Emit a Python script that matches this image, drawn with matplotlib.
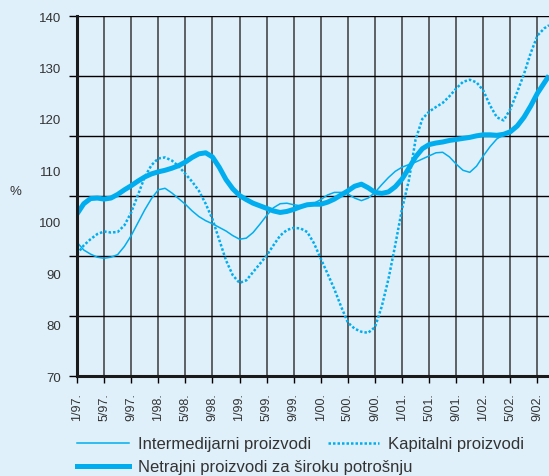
import matplotlib.pyplot as plt
from matplotlib.lines import Line2D
import numpy as np

# months counted from 1/97 (0 = January 1997), last reading at the right edge
months = list(range(70)) + [69.7]

intermedijarni = [96.0, 94.5, 93.7, 93.1, 92.9, 93.1, 93.6, 95.2, 97.3, 99.8,
                  102.3, 104.5, 106.2, 106.5, 105.6, 104.5, 103.4, 102.1, 101.0, 100.2,
                  99.6, 98.9, 98.2, 97.3, 96.6, 96.8, 97.9, 99.5, 101.2, 102.7,
                  103.5, 103.6, 103.3, 103.1, 103.1, 103.6, 104.3, 105.2, 105.7, 105.7,
                  105.4, 104.6, 104.1, 104.6, 105.7, 107.2, 108.6, 109.8, 110.6, 111.1,
                  111.6, 112.2, 112.8, 113.4, 113.5, 112.6, 111.2, 110.0, 109.6, 110.8,
                  112.8, 114.6, 116.1, 116.9, 117.3, 118.4, 120.1, 122.3, 124.8, 126.8,
                  128.2]

kapitalni = [93.7, 95.4, 96.6, 97.6, 98.1, 97.9, 98.0, 99.3, 101.8, 105.2,
             108.7, 111.0, 112.3, 112.5, 111.9, 110.8, 109.3, 107.8, 106.0, 103.5,
             100.5, 96.5, 92.5, 89.6, 88.1, 88.6, 90.2, 91.8, 93.4, 95.4,
             97.3, 98.4, 98.8, 98.7, 98.0, 95.8, 92.8, 89.9, 86.9, 83.5,
             80.4, 79.2, 78.6, 78.4, 79.5, 83.5, 88.9, 95.5, 102.5, 108.0,
             116.0, 120.0, 121.4, 122.3, 123.1, 124.4, 125.9, 127.2, 127.6, 127.1,
             125.5, 122.6, 120.3, 119.7, 121.9, 125.2, 128.7, 132.8, 136.2, 137.6,
             138.2]

netrajni = [101.5, 103.5, 104.5, 104.6, 104.4, 104.6, 105.3, 106.2, 107.0, 107.9,
            108.7, 109.3, 109.7, 110.0, 110.4, 110.9, 111.6, 112.5, 113.2, 113.4,
            112.6, 110.6, 108.2, 106.4, 105.1, 104.3, 103.6, 103.1, 102.6, 102.1,
            101.8, 102.0, 102.4, 102.9, 103.3, 103.4, 103.4, 103.8, 104.4, 105.2,
            106.0, 106.9, 107.3, 106.6, 105.7, 105.5, 105.8, 106.8, 108.3, 110.4,
            112.6, 114.2, 115.0, 115.3, 115.5, 115.8, 116.0, 116.2, 116.4, 116.7,
            116.9, 116.9, 116.8, 117.0, 117.5, 118.6, 120.3, 122.5, 125.0, 127.0,
            128.4]

tick_months = list(range(0, 69, 4))
tick_labels = ["1/97.", "5/97.", "9/97.", "1/98.", "5/98.", "9/98.", "1/99.", "5/99.",
               "9/99.", "1/00.", "5/00.", "9/00.", "1/01.", "5/01.", "9/01.", "1/02.",
               "5/02.", "9/02."]
y_labels = [70, 80, 90, 100, 110, 120, 130, 140]

bg = "#dff0fa"
blue = "#00aeef"
txt = "#333333"

plt.rcParams["font.family"] = ["Liberation Sans", "DejaVu Sans"]

fig = plt.figure(figsize=(5.49, 4.77), dpi=100, facecolor=bg)
ax = fig.add_axes([77 / 549, 1 - 377 / 477, 1 - 77 / 549, 360 / 477])
ax.set_facecolor(bg)

# data lines
ax.plot(months, intermedijarni, color=blue, lw=1.1, solid_joinstyle="round", zorder=3)
ax.plot(months, kapitalni, color=blue, lw=1.8, linestyle=(0, (1, 0.8)), zorder=3)
ax.plot(months, netrajni, color=blue, lw=3.6, solid_joinstyle="round",
        solid_capstyle="butt", zorder=4)

ax.set_xlim(0, 69.7)
ax.set_ylim(70, 140)

# x axis
ax.set_xticks(tick_months)
ax.set_xticklabels(tick_labels, rotation=90, fontsize=9, color=txt)
ax.tick_params(axis="x", length=5, width=1, pad=6.5, color="black")
ax.xaxis.grid(True, color="#3a3a3a", lw=1.1)

# y axis: gridlines/ticks split into 6 parts, labels every 10
ax.yaxis.remove_overlapping_locs = False
ax.set_yticks(np.linspace(70, 140, 7))
ax.set_yticklabels([])
ax.set_yticks(y_labels, minor=True)
ax.set_yticklabels([str(v) for v in y_labels], minor=True, fontsize=9.5, color=txt)
ax.tick_params(axis="y", which="major", length=6, width=1, color="black")
ax.tick_params(axis="y", which="minor", length=0, pad=11.5)
ax.yaxis.grid(True, which="major", color="black", lw=1.0)

ax.set_ylabel("%", rotation=0, fontsize=9.5, color=txt)
ax.yaxis.set_label_coords(-0.131, 0.497)

for s in ["top", "right"]:
    ax.spines[s].set_visible(False)
for s in ["left", "bottom"]:
    ax.spines[s].set_linewidth(2.2)
    ax.spines[s].set_color("#1a1a1a")
    ax.spines[s].set_zorder(5)

# legend in two rows
h_inter = Line2D([], [], color=blue, lw=1.1)
h_kap = Line2D([], [], color=blue, lw=1.8, linestyle=(0, (1, 0.8)))
h_net = Line2D([], [], color=blue, lw=3.6)

fig.legend([h_inter, h_kap], ["Intermedijarni proizvodi", "Kapitalni proizvodi"],
           loc="center left", bbox_to_anchor=(77 / 549, 1 - 445 / 477), ncol=2,
           frameon=False, fontsize=12, handlelength=3.1, handletextpad=0.55,
           columnspacing=1.0, borderpad=0, borderaxespad=0, labelcolor=txt)
fig.legend([h_net], ["Netrajni proizvodi za široku potrošnju"],
           loc="center left", bbox_to_anchor=(77 / 549, 1 - 468 / 477),
           frameon=False, fontsize=12, handlelength=3.1, handletextpad=0.55,
           borderpad=0, borderaxespad=0, labelcolor=txt)

fig.savefig("out.png", dpi=100, facecolor=bg)
